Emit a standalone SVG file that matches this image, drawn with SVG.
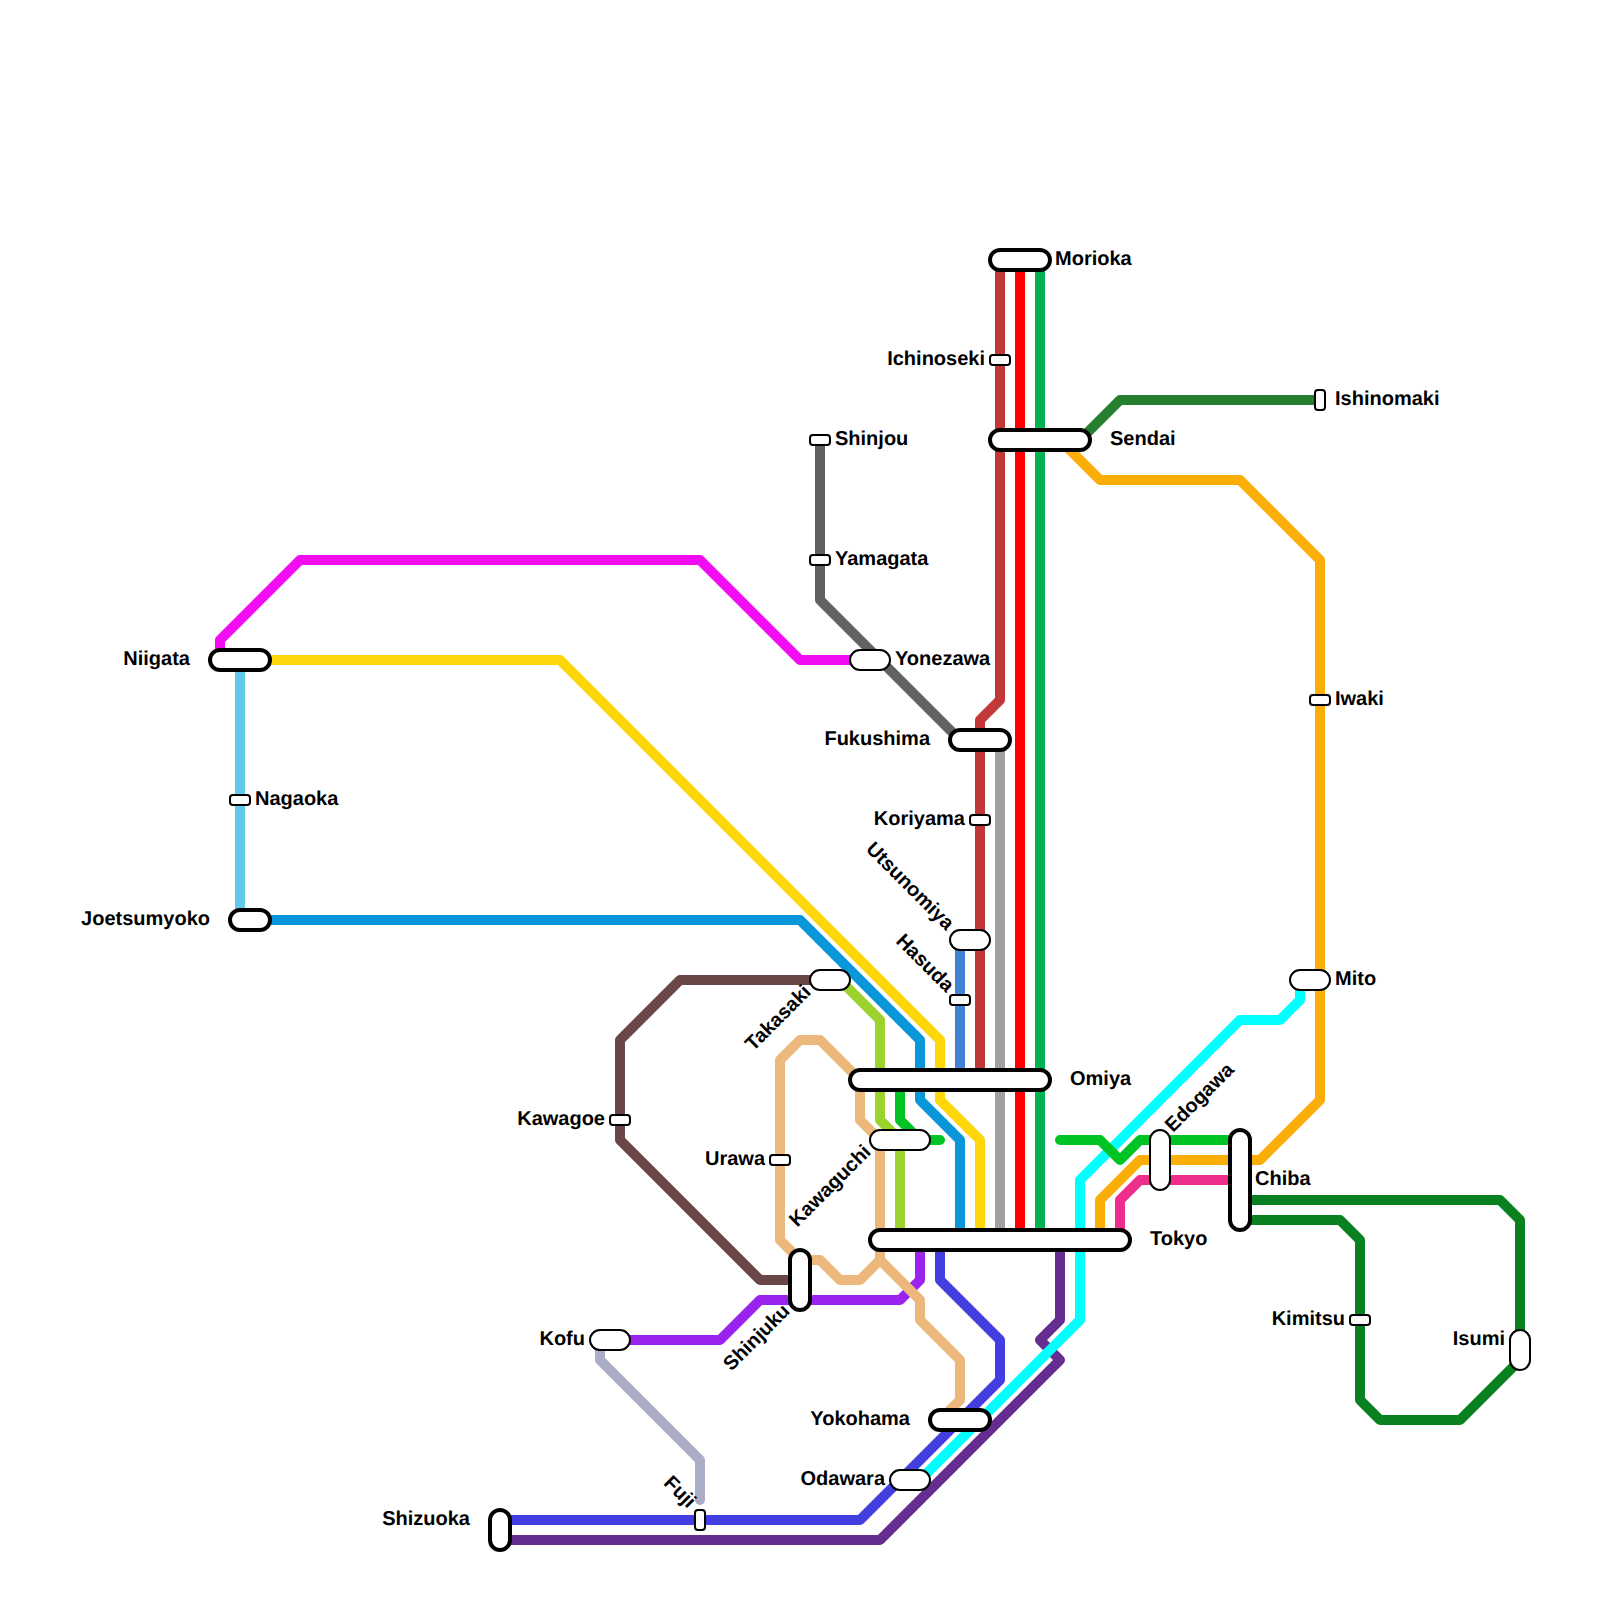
<svg xmlns="http://www.w3.org/2000/svg" width="1600" height="1600" viewBox="0 0 1600 1600">
<style>
.l{fill:none;stroke-width:10;stroke-linejoin:round;stroke-linecap:round}
.b{fill:#fff;stroke:#000;stroke-width:4}
.t{fill:#fff;stroke:#000;stroke-width:2}
text{font-family:"Liberation Sans",Arial,sans-serif;font-weight:700;font-size:20px;fill:#000;text-rendering:geometricPrecision}
.e{text-anchor:end}
</style>
<rect width="1600" height="1600" fill="#fff"/>
<g id="connectors">
<path class="l" stroke="#c23838" d="M1000 260V700L980 720V1080"/>
<path class="l" stroke="#a0a0a0" d="M1000 740V1240"/>
<path class="l" stroke="#f00" d="M1020 260V1240"/>
<path class="l" stroke="#00b251" d="M1040 260V1240"/>
<path class="l" stroke="#267f2f" d="M1080 440L1120 400H1320"/>
<path class="l" stroke="#606260" d="M820 440V600L960 740"/>
<path class="l" stroke="#f20cf2" d="M220 660V640L300 560H700L800 660H870"/>
<path class="l" stroke="#62c9e8" d="M240 660V920"/>
<path class="l" stroke="#ffd60a" d="M250 660H560L940 1040V1100L980 1140V1240"/>
<path class="l" stroke="#0a97d9" d="M250 920H800L920 1040V1100L960 1140V1240"/>
<path class="l" stroke="#4282d4" d="M960 940V1080"/>
<path class="l" stroke="#9bd22e" d="M840 980L880 1020V1120L900 1140V1240"/>
<path class="l" stroke="#6b4646" d="M820 980H680L620 1040V1140L760 1280H800"/>
<path class="l" stroke="#9b23ee" d="M610 1340H720L760 1300H900L920 1280V1240"/>
<path class="l" stroke="#edb87c" d="M880 1260V1140L860 1120V1080L820 1040H800L780 1060V1240L800 1260H820L840 1280H860L880 1260L920 1300V1320L960 1360V1400L940 1420"/>
<path class="l" stroke="#423ee0" d="M940 1240V1280L1000 1340V1380L860 1520H500"/>
<path class="l" stroke="#662d91" d="M1060 1240V1320L1040 1340L1060 1360L880 1540H500"/>
<path class="l" stroke="#abadc6" d="M600 1340V1360L700 1460V1500"/>
<path class="l" stroke="#fbae08" d="M1060 440L1100 480H1240L1320 560V1100L1260 1160H1140L1100 1200V1240"/>
<path class="l" stroke="#ed2e8c" d="M1240 1180H1140L1120 1200V1240"/>
<path class="l" stroke="#00ffff" d="M1300 980V1000L1280 1020H1240L1080 1180V1320L920 1480"/>
<path class="l" stroke="#00c425" d="M900 1080V1120L920 1140H940M1060 1140H1100L1120 1160L1140 1140H1240"/>
<path class="l" stroke="#0a8120" d="M1240 1200H1500L1520 1220V1350"/>
<path class="l" stroke="#0a8120" d="M1240 1220H1340L1360 1240V1400L1380 1420H1460L1520 1360"/>
</g>
<g id="morioka"><rect class="b" x="990" y="250" width="60" height="20" rx="10"/><text x="1055" y="265">Morioka</text></g>
<g id="ichinoseki"><rect class="t" x="990" y="355" width="20" height="10" rx="3"/><text class="e" x="985" y="365">Ichinoseki</text></g>
<g id="sendai"><rect class="b" x="990" y="430" width="100" height="20" rx="10"/><text x="1110" y="445">Sendai</text></g>
<g id="ishinomaki"><rect class="t" x="1315" y="390" width="10" height="20" rx="3"/><text x="1335" y="405">Ishinomaki</text></g>
<g id="shinjou"><rect class="t" x="810" y="435" width="20" height="10" rx="3"/><text x="835" y="445">Shinjou</text></g>
<g id="yamagata"><rect class="t" x="810" y="555" width="20" height="10" rx="3"/><text x="835" y="565">Yamagata</text></g>
<g id="yonezawa"><rect class="t" x="850" y="650" width="40" height="20" rx="10"/><text x="895" y="665">Yonezawa</text></g>
<g id="fukushima"><rect class="b" x="950" y="730" width="60" height="20" rx="10"/><text class="e" x="930" y="745">Fukushima</text></g>
<g id="koriyama"><rect class="t" x="970" y="815" width="20" height="10" rx="3"/><text class="e" x="965" y="825">Koriyama</text></g>
<g id="niigata"><rect class="b" x="210" y="650" width="60" height="20" rx="10"/><text class="e" x="190" y="665">Niigata</text></g>
<g id="nagaoka"><rect class="t" x="230" y="795" width="20" height="10" rx="3"/><text x="255" y="805">Nagaoka</text></g>
<g id="joetsumyoko"><rect class="b" x="230" y="910" width="40" height="20" rx="10"/><text class="e" x="210" y="925">Joetsumyoko</text></g>
<g id="iwaki"><rect class="t" x="1310" y="695" width="20" height="10" rx="3"/><text x="1335" y="705">Iwaki</text></g>
<g id="mito"><rect class="t" x="1290" y="970" width="40" height="20" rx="10"/><text x="1335" y="985">Mito</text></g>
<g id="utsunomiya"><rect class="t" x="950" y="930" width="40" height="20" rx="10"/><text class="e" transform="translate(946 931) rotate(45)">Utsunomiya</text></g>
<g id="hasuda"><rect class="t" x="950" y="995" width="20" height="10" rx="3"/><text class="e" transform="translate(946 993) rotate(45)">Hasuda</text></g>
<g id="takasaki"><rect class="t" x="810" y="970" width="40" height="20" rx="10"/><text class="e" transform="translate(812 993) rotate(-45)">Takasaki</text></g>
<g id="omiya"><rect class="b" x="850" y="1070" width="200" height="20" rx="10"/><text x="1070" y="1085">Omiya</text></g>
<g id="kawaguchi"><rect class="t" x="870" y="1130" width="60" height="20" rx="10"/><text class="e" transform="translate(872 1153) rotate(-45)">Kawaguchi</text></g>
<g id="urawa"><rect class="t" x="770" y="1155" width="20" height="10" rx="3"/><text class="e" x="765" y="1165">Urawa</text></g>
<g id="kawagoe"><rect class="t" x="610" y="1115" width="20" height="10" rx="3"/><text class="e" x="605" y="1125">Kawagoe</text></g>
<g id="edogawa"><rect class="t" x="1150" y="1130" width="20" height="60" rx="10"/><text transform="translate(1173 1133) rotate(-45)">Edogawa</text></g>
<g id="chiba"><rect class="b" x="1230" y="1130" width="20" height="100" rx="10"/><text x="1255" y="1185">Chiba</text></g>
<g id="tokyo"><rect class="b" x="870" y="1230" width="260" height="20" rx="10"/><text x="1150" y="1245">Tokyo</text></g>
<g id="shinjuku"><rect class="b" x="790" y="1250" width="20" height="60" rx="10"/><text class="e" transform="translate(791 1312) rotate(-45)">Shinjuku</text></g>
<g id="kofu"><rect class="t" x="590" y="1330" width="40" height="20" rx="10"/><text class="e" x="585" y="1345">Kofu</text></g>
<g id="kimitsu"><rect class="t" x="1350" y="1315" width="20" height="10" rx="3"/><text class="e" x="1345" y="1325">Kimitsu</text></g>
<g id="isumi"><rect class="t" x="1510" y="1330" width="20" height="40" rx="10"/><text class="e" x="1505" y="1345">Isumi</text></g>
<g id="yokohama"><rect class="b" x="930" y="1410" width="60" height="20" rx="10"/><text class="e" x="910" y="1425">Yokohama</text></g>
<g id="odawara"><rect class="t" x="890" y="1470" width="40" height="20" rx="10"/><text class="e" x="885" y="1485">Odawara</text></g>
<g id="fuji"><rect class="t" x="695" y="1510" width="10" height="20" rx="3"/><text class="e" transform="translate(688 1509) rotate(45)">Fuji</text></g>
<g id="shizuoka"><rect class="b" x="490" y="1510" width="20" height="40" rx="10"/><text class="e" x="470" y="1525">Shizuoka</text></g>
</svg>
